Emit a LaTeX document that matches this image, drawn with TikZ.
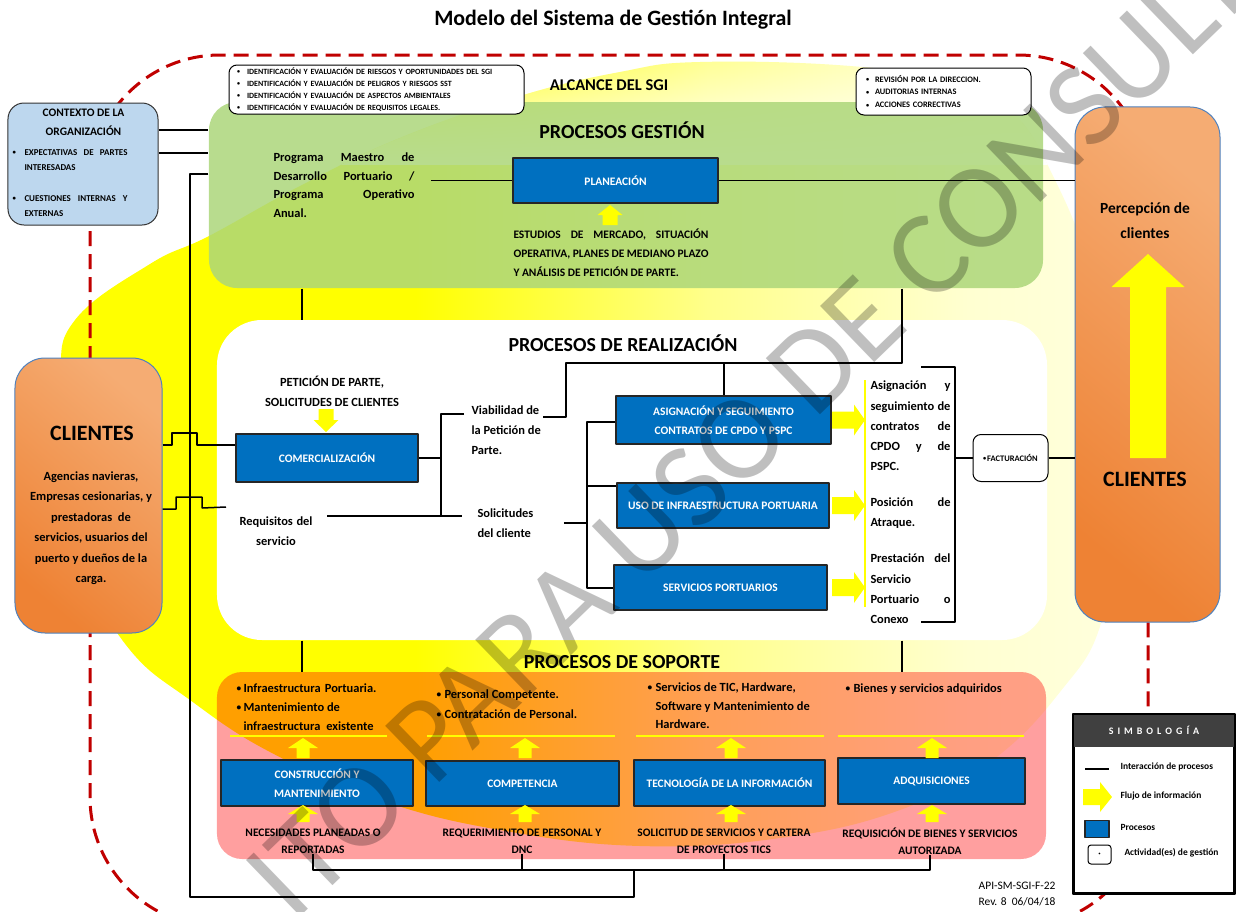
\documentclass[tikz,border=0pt]{standalone}
\usepackage{fontspec}
\setmainfont{Carlito}
\usetikzlibrary{shapes,arrows,calc,fadings}

\definecolor{azulproc}{RGB}{0,112,192}
\definecolor{rojodash}{RGB}{192,0,0}
\definecolor{verdeg}{RGB}{172,214,122}
\definecolor{rosasop}{RGB}{255,159,159}
\definecolor{naranjaA}{RGB}{238,130,52}
\definecolor{naranjaB}{RGB}{245,172,115}
\definecolor{azulctx}{RGB}{189,215,238}
\definecolor{bordecli}{RGB}{79,129,189}
\definecolor{amarillo}{RGB}{255,255,0}

\pgfdeclarehorizontalshading{elipsegrad}{100bp}{color(0bp)=(amarillo); color(25bp)=(amarillo); color(45bp)=(amarillo); color(53bp)=(amarillo!45); color(60bp)=(amarillo!18); color(72bp)=(amarillo!5); color(100bp)=(amarillo!5)}

\newcommand{\tam}[2]{\fontsize{#1}{#2}\selectfont}
\newcommand{\vi}[1][9bp]{\makebox[#1][l]{\raisebox{.1em}{\scalebox{.75}{•}}}}
\newcommand{\jl}[2]{\makebox[#1][s]{#2}}

\tikzset{
  proceso/.style={draw=black!85, line width=1.3bp, fill=azulproc, text=white,
    font=\bfseries\tam{11.5}{19}, align=center, inner sep=0pt},
  caja/.style={draw=black, line width=1bp, fill=white, rounded corners=8bp, inner sep=0pt},
  texto/.style={font=\bfseries\tam{12.5}{20}, inner sep=0pt},
  chico/.style={font=\bfseries\tam{11.5}{17}, inner sep=0pt, align=center},
  cliente/.style={draw=bordecli, line width=1bp, rounded corners=30bp,
    top color=naranjaB, bottom color=naranjaA, shading angle=-40, inner sep=0pt},
  linea/.style={line width=1.5bp, black},
  lineaam/.style={line width=1.5bp, amarillo},
  pics/flecha/.style n args={4}{code={
    \fill[amarillo] (0,-#2/2) -- (#1-#4,-#2/2) -- (#1-#4,-#3/2) -- (#1,0)
      -- (#1-#4,#3/2) -- (#1-#4,#2/2) -- (0,#2/2) -- cycle;}},
}

\begin{document}
\begin{tikzpicture}[x=1bp, y=-1bp, >=latex, line join=bevel]
  \pgfsetlinewidth{1bp}
  \useasboundingbox (0,0) rectangle (1236,912);
%%
  % Fondo: elipse amarilla
  \begin{scope}
    \clip plot[smooth cycle, tension=0.7] coordinates {(700,62) (850,66) (950,82)
      (1012,112) (1055,180) (1090,270) (1112,380) (1117,500) (1102,620) (1060,692)
      (990,762) (900,810) (780,838) (640,846) (500,830) (380,800) (270,752) (190,700)
      (130,650) (88,575) (62,480) (60,380) (75,320) (150,264) (209,236) (300,186)
      (400,138) (520,96) (620,72)};
    \shade[shading=elipsegrad, rotate around={40:(600,450)}] (-100,-150) rectangle (1300,1050);
    \fill[white, path fading=north] (0,50) rectangle (1236,165);
  \end{scope}
  % Alcance del sistema
  \draw[rojodash, line width=3bp, dash pattern=on 15bp off 8bp, rounded corners=130bp]
    (90,55) rectangle (1148,927);
%%
  % Bloques de procesos
  \node[fill=verdeg, fill opacity=0.85, rounded corners=28bp, minimum width=834bp,
    minimum height=186bp, inner sep=0pt] (gestion) at (626,195) {};
  \node[fill=white, rounded corners=45bp, minimum width=830bp, minimum height=320bp,
    inner sep=0pt] (realiz) at (632,480) {};
  \begin{scope}[blend mode=multiply]
    \node[fill=rosasop, rounded corners=25bp, minimum width=829bp, minimum height=187bp,
      inner sep=0pt] (soporte) at (631.5,765.5) {};
  \end{scope}
  \node[draw=black!80, line width=1bp, fill=azulctx, rounded corners=16bp,
    minimum width=150bp, minimum height=122bp, inner sep=0pt] (ctx) at (83,164) {};
  \node[cliente, minimum width=147bp, minimum height=275bp] (cliL) at (88.5,495.5) {};
  \node[cliente, minimum width=145bp, minimum height=515bp] (cliR) at (1147.5,364.5) {};
%%
  % Titulos
  \node[font=\bfseries\tam{22}{26}] (titulo) at (613,20) {Modelo del Sistema de Gestión Integral};
  \node[font=\bfseries\tam{16.5}{20}] (alcance) at (609,85) {ALCANCE DEL SGI};
  \node[font=\bfseries\tam{20}{24}] (tgestion) at (622,130) {PROCESOS GESTIÓN};
  \node[font=\bfseries\tam{20}{24}] (trealiz) at (623,343) {PROCESOS DE REALIZACIÓN};
  \node[font=\bfseries\tam{20}{24}] (tsoporte) at (622,662) {PROCESOS DE SOPORTE};
%%
  % Actividades de gestion
  \node[caja, minimum width=295bp, minimum height=49bp, text width=279bp, align=left,
    font=\bfseries\tam{8}{12}] (riesgos) at (376.5,89.5)
    {\vi[10bp]IDENTIFICACIÓN Y EVALUACIÓN DE RIESGOS Y OPORTUNIDADES DEL SGI\\
     \vi[10bp]IDENTIFICACIÓN Y EVALUACIÓN DE PELIGROS Y RIESGOS SST\\
     \vi[10bp]IDENTIFICACIÓN Y EVALUACIÓN DE ASPECTOS AMBIENTALES\\
     \vi[10bp]IDENTIFICACIÓN Y EVALUACIÓN DE REQUISITOS LEGALES.};
  \node[caja, minimum width=175bp, minimum height=47bp, text width=155bp, align=left,
    font=\bfseries\tam{8.4}{13}] (revision) at (943.5,91.5)
    {\vi[9bp]REVISIÓN POR LA DIRECCION.\\
     \vi[9bp]AUDITORIAS INTERNAS\\
     \vi[9bp]ACCIONES CORRECTIVAS};
  \node[caja, minimum width=75bp, minimum height=47bp, font=\bfseries\tam{8.5}{10}]
    (factur) at (1010.5,458) {\vi[4bp]FACTURACIÓN};
%%
  % Contexto y clientes
  \node[font=\bfseries\tam{11.5}{19}, align=center, inner sep=0pt] (tctx) at (83.5,122)
    {CONTEXTO DE LA\\ORGANIZACIÓN};
  \node[anchor=north west, font=\bfseries\tam{9}{15.5}, align=left, inner sep=0pt]
    (bctx) at (12,149)
    {\vi[12bp]\jl{103bp}{EXPECTATIVAS DE PARTES}\\ \hspace*{12bp}INTERESADAS\\[15bp]
     \vi[12bp]\jl{103bp}{CUESTIONES INTERNAS Y}\\ \hspace*{12bp}EXTERNAS};
  \node[font=\bfseries\tam{22}{26}, inner sep=0pt] (tcliL) at (92,433) {CLIENTES};
  \node[texto, font=\bfseries\tam{12.5}{20.6}, align=center] (dcliL) at (91,528)
    {Agencias navieras,\\Empresas cesionarias, y\\prestadoras\ \ de\\servicios, usuarios del\\
     puerto y dueños\ de la\\carga.};
  \node[font=\bfseries\tam{15.5}{25}, align=center, inner sep=0pt] (percep) at (1145,221)
    {Percepción de\\clientes};
  \node[font=\bfseries\tam{22}{26}, inner sep=0pt] (tcliR) at (1145,479) {CLIENTES};
  \pic[rotate=90] at (1148,458) {flecha={204}{36}{73}{33}};
%%
  % Procesos gestion
  \node[texto, font=\bfseries\tam{12.5}{18.7}, align=left, anchor=west] (prog) at (273,185)
    {\jl{141bp}{Programa Maestro de}\\\jl{141bp}{Desarrollo Portuario /}\\
     \jl{141bp}{Programa Operativo}\\Anual.};
  \node[proceso, minimum width=205bp, minimum height=45bp] (planeacion) at (615.5,180.5) {PLANEACIÓN};
  \pic[rotate=90] at (610,225) {flecha={20}{15}{25}{10}};
  \node[anchor=west, font=\bfseries\tam{11.5}{19}, align=left, inner sep=0pt] (estudios) at (513,253)
    {\jl{195bp}{ESTUDIOS DE MERCADO, SITUACIÓN}\\\jl{195bp}{OPERATIVA, PLANES DE MEDIANO PLAZO}\\
     Y ANÁLISIS DE PETICIÓN DE PARTE.};
%%
  % Procesos de realizacion
  \node[texto, align=center] (peticion) at (332,391) {PETICIÓN DE PARTE,\\SOLICITUDES DE CLIENTES};
  \pic[rotate=-90] at (326,409) {flecha={23}{15}{25}{12}};
  \node[proceso, minimum width=182bp, minimum height=48bp] (comerc) at (327,458) {COMERCIALIZACIÓN};
  \node[texto, align=center] (req) at (276,531) {\jl{73bp}{Requisitos del}\\servicio};
  \node[texto, align=left, anchor=west] (viab) at (471,430) {Viabilidad de\\la Petición de\\Parte.};
  \node[texto, align=left, anchor=west] (solic) at (477,523) {Solicitudes\\del cliente};
  \node[proceso, minimum width=215bp, minimum height=48bp] (asign) at (723.5,420)
    {ASIGNACIÓN Y SEGUIMIENTO\\CONTRATOS DE CPDO Y PSPC};
  \node[proceso, minimum width=212bp, minimum height=45bp] (uso) at (723,505.5)
    {USO DE INFRAESTRUCTURA PORTUARIA};
  \node[proceso, minimum width=213bp, minimum height=45bp] (servpor) at (720.5,587.5)
    {SERVICIOS PORTUARIOS};
  \foreach \b in {asign,uso,servpor}
    \pic at (832,0 |- \b.east) {flecha={33}{17}{31}{11}};
  \draw[amarillo, line width=2bp] (865,380) -- (865,607);
  \node[texto, font=\bfseries\tam{12.5}{20.3}, align=left, anchor=west] (asigtxt) at (870,426)
    {\jl{80bp}{Asignación y}\\\jl{80bp}{seguimiento de}\\\jl{80bp}{contratos de}\\
     \jl{80bp}{CPDO y de}\\PSPC.};
  \node[texto, font=\bfseries\tam{12.5}{20.3}, align=left, anchor=west] (postxt) at (870,513)
    {\jl{80bp}{Posición de}\\Atraque.};
  \node[texto, font=\bfseries\tam{12.5}{20.3}, align=left, anchor=west] (prestxt) at (870,589)
    {\jl{80bp}{Prestación del}\\Servicio\\\jl{80bp}{Portuario o}\\Conexo};
%%
  % Procesos de soporte
  \node[texto, font=\bfseries\tam{12.5}{19}, align=left, anchor=west] (s1) at (236,707)
    {\vi[7bp]\jl{133bp}{Infraestructura Portuaria.}\\\vi[7bp]Mantenimiento de\\
     \hspace*{7bp}\jl{130bp}{infraestructura existente}};
  \node[texto, font=\bfseries\tam{12.5}{20}, align=left, anchor=west] (s2) at (436,704)
    {\vi[8bp]Personal Competente.\\\vi[8bp]Contratación\ de Personal.};
  \node[texto, font=\bfseries\tam{12.5}{18.5}, align=left, anchor=west] (s3) at (647,706)
    {\vi[8bp]Servicios de TIC, Hardware,\\\hspace*{8bp}Software y Mantenimiento\ de\\
     \hspace*{8bp}Hardware.};
  \node[texto, align=left, anchor=west] (s4) at (845,689) {\vi[8bp]Bienes y servicios adquiridos};
  \draw[lineaam] (230,736) -- (387,736);
  \draw[lineaam] (427,736) -- (615,736);
  \draw[lineaam] (636,736) -- (824,736);
  \draw[lineaam] (838,736) -- (1024,736);
  \node[proceso, minimum width=192bp, minimum height=46bp] (constr) at (317,783)
    {CONSTRUCCIÓN Y\\MANTENIMIENTO};
  \node[proceso, minimum width=193bp, minimum height=45bp] (compet) at (522.5,783.5) {COMPETENCIA};
  \node[proceso, minimum width=191bp, minimum height=46bp] (tecno) at (729.5,783)
    {TECNOLOGÍA DE LA INFORMACIÓN};
  \node[proceso, minimum width=187bp, minimum height=46bp] (adquis) at (931.5,781) {ADQUISICIONES};
  \foreach \x in {303,525,731,932}{
    \pic[rotate=90] at (\x,758) {flecha={20}{13}{30}{10}};
    \pic[rotate=90] at (\x,822) {flecha={17}{13}{30}{9}};
  }
  \node[chico] (nec) at (313,841) {NECESIDADES PLANEADAS O\\REPORTADAS};
  \node[chico] (reqp) at (522,841) {REQUERIMIENTO DE PERSONAL Y\\DNC};
  \node[chico] (solt) at (724,841) {SOLICITUD DE SERVICIOS Y CARTERA\\DE PROYECTOS TICS};
  \node[chico] (reqb) at (930,841) {REQUISICIÓN DE BIENES Y SERVICIOS\\AUTORIZADA};
%%
  % Interaccion de procesos
  \draw[linea] (ctx.east |- 0,130) -- (gestion.west |- 0,130);
  \draw[linea] (ctx.east |- 0,153) -- (gestion.west |- 0,153);
  \draw[linea] (gestion.west |- 0,174) -- (190,174) |- (634,897) -- (634,870);
  \draw[linea] (nec.south) -- (nec.south |- 0,870) -- (reqb.south |- 0,870) -- (reqb.south);
  \draw[linea] (reqp.south) -- (reqp.south |- 0,870);
  \draw[linea] (solt.south) -- (solt.south |- 0,870);
  \draw[linea] (431,0 |- planeacion.west) -- (planeacion.west);
  \draw[linea] (planeacion.east) -- (planeacion.east -| cliR.west);
  \draw[linea] (gestion.south -| 302,0) -- (realiz.north -| 302,0);
  \draw[linea] (realiz.south -| 302,0) -- (soporte.north -| 302,0);
  \draw[linea] (realiz.south -| 902,0) -- (soporte.north -| 902,0);
  \draw[linea] (gestion.south -| 902,0) |- (566,363) |- ($(viab.east |- 0,417)+(2,0)$);
  \draw[linea] (724,363) -- (asign.north -| 724,0);
  \draw[linea] (cliL.east |- 0,445) -- (172,445) -- (172,433) -- (197,433) -- (197,445)
    -- (comerc.west |- 0,445);
  \coordinate (finreq) at (226,507);
  \draw[linea] (cliL.east |- 0,509) -- (176,509) -- (176,497) -- (202,497) -- (202,508) -- (finreq);
  \draw[linea] (comerc.east) -- (441,0 |- comerc.east);
  \draw[linea] ($(viab.west |- 0,414)+(-7,0)$) -| (441,516);
  \draw[linea] ($(req.east |- 0,516)+(14,0)$) -- ($(solic.west |- 0,516)+(-15,0)$);
  \coordinate (bifurca) at (587,523);
  \draw[linea] ($(solic.east |- bifurca)+(30,0)$) -- (bifurca);
  \draw[linea] (asign.west |- 0,422) -| (587,588) -- (servpor.west |- 0,588);
  \draw[linea] (587,486) -- (uso.west |- 0,486);
  \draw[linea] (921,367) -| (955,622) -- (921,622);
  \draw[linea] (955,0 |- factur.west) -- (factur.west);
  \draw[linea] (factur.east) -- (factur.east -| cliR.west);
%%
  % Simbologia
  \node[draw=black, line width=2bp, fill=white, minimum width=160bp, minimum height=178bp,
    inner sep=0pt] (leyenda) at (1154,804) {};
  \node[fill=black!75, minimum width=160bp, minimum height=32bp, anchor=north, inner sep=0pt,
    text=white, font=\bfseries\tam{10}{10}] (cabecera) at (leyenda.north)
    {S\hspace{4bp}I\hspace{4bp}M\hspace{4bp}B\hspace{4bp}O\hspace{4bp}L\hspace{4bp}O\hspace{4bp}G\hspace{4bp}Í\hspace{4bp}A};
  \draw[line width=2bp] (leyenda.north west) rectangle (leyenda.south east);
  \draw[linea] (1085,769) -- (1109,769);
  \node[font=\bfseries\tam{9.5}{10}, anchor=west, inner sep=0pt] (ley1) at (1120,767) {Interacción de procesos};
  \pic at (1083,797) {flecha={29}{16}{30}{12}};
  \node[font=\bfseries\tam{9.5}{10}, anchor=west, inner sep=0pt] (ley2) at (1120,796) {Flujo de información};
  \node[proceso, minimum width=24bp, minimum height=17bp] (ley3c) at (1097,829) {};
  \node[font=\bfseries\tam{9.5}{10}, anchor=west, inner sep=0pt] (ley3) at (1120,827) {Procesos};
  \node[caja, rounded corners=3bp, minimum width=23bp, minimum height=19bp,
    font=\bfseries\tam{9}{9}] (ley4c) at (1099.5,854.5) {·};
  \node[font=\bfseries\tam{9.5}{10}, anchor=west, inner sep=0pt] (ley4) at (1124,853) {Actividad(es) de gestión};
  \node[anchor=east, align=right, font=\tam{11.5}{17}, inner sep=0pt] (codigo) at (1056,894)
    {API-SM-SGI-F-22\\Rev. 8\ \ 06/04/18};
%%
  % Marca de agua
  \node[rotate=44, font=\tam{122}{122}, opacity=0.25, inner sep=0pt] (marca) at (772,408)
    {ITO PARA USO DE CONSULTA};
%
\end{tikzpicture}
\end{document}
